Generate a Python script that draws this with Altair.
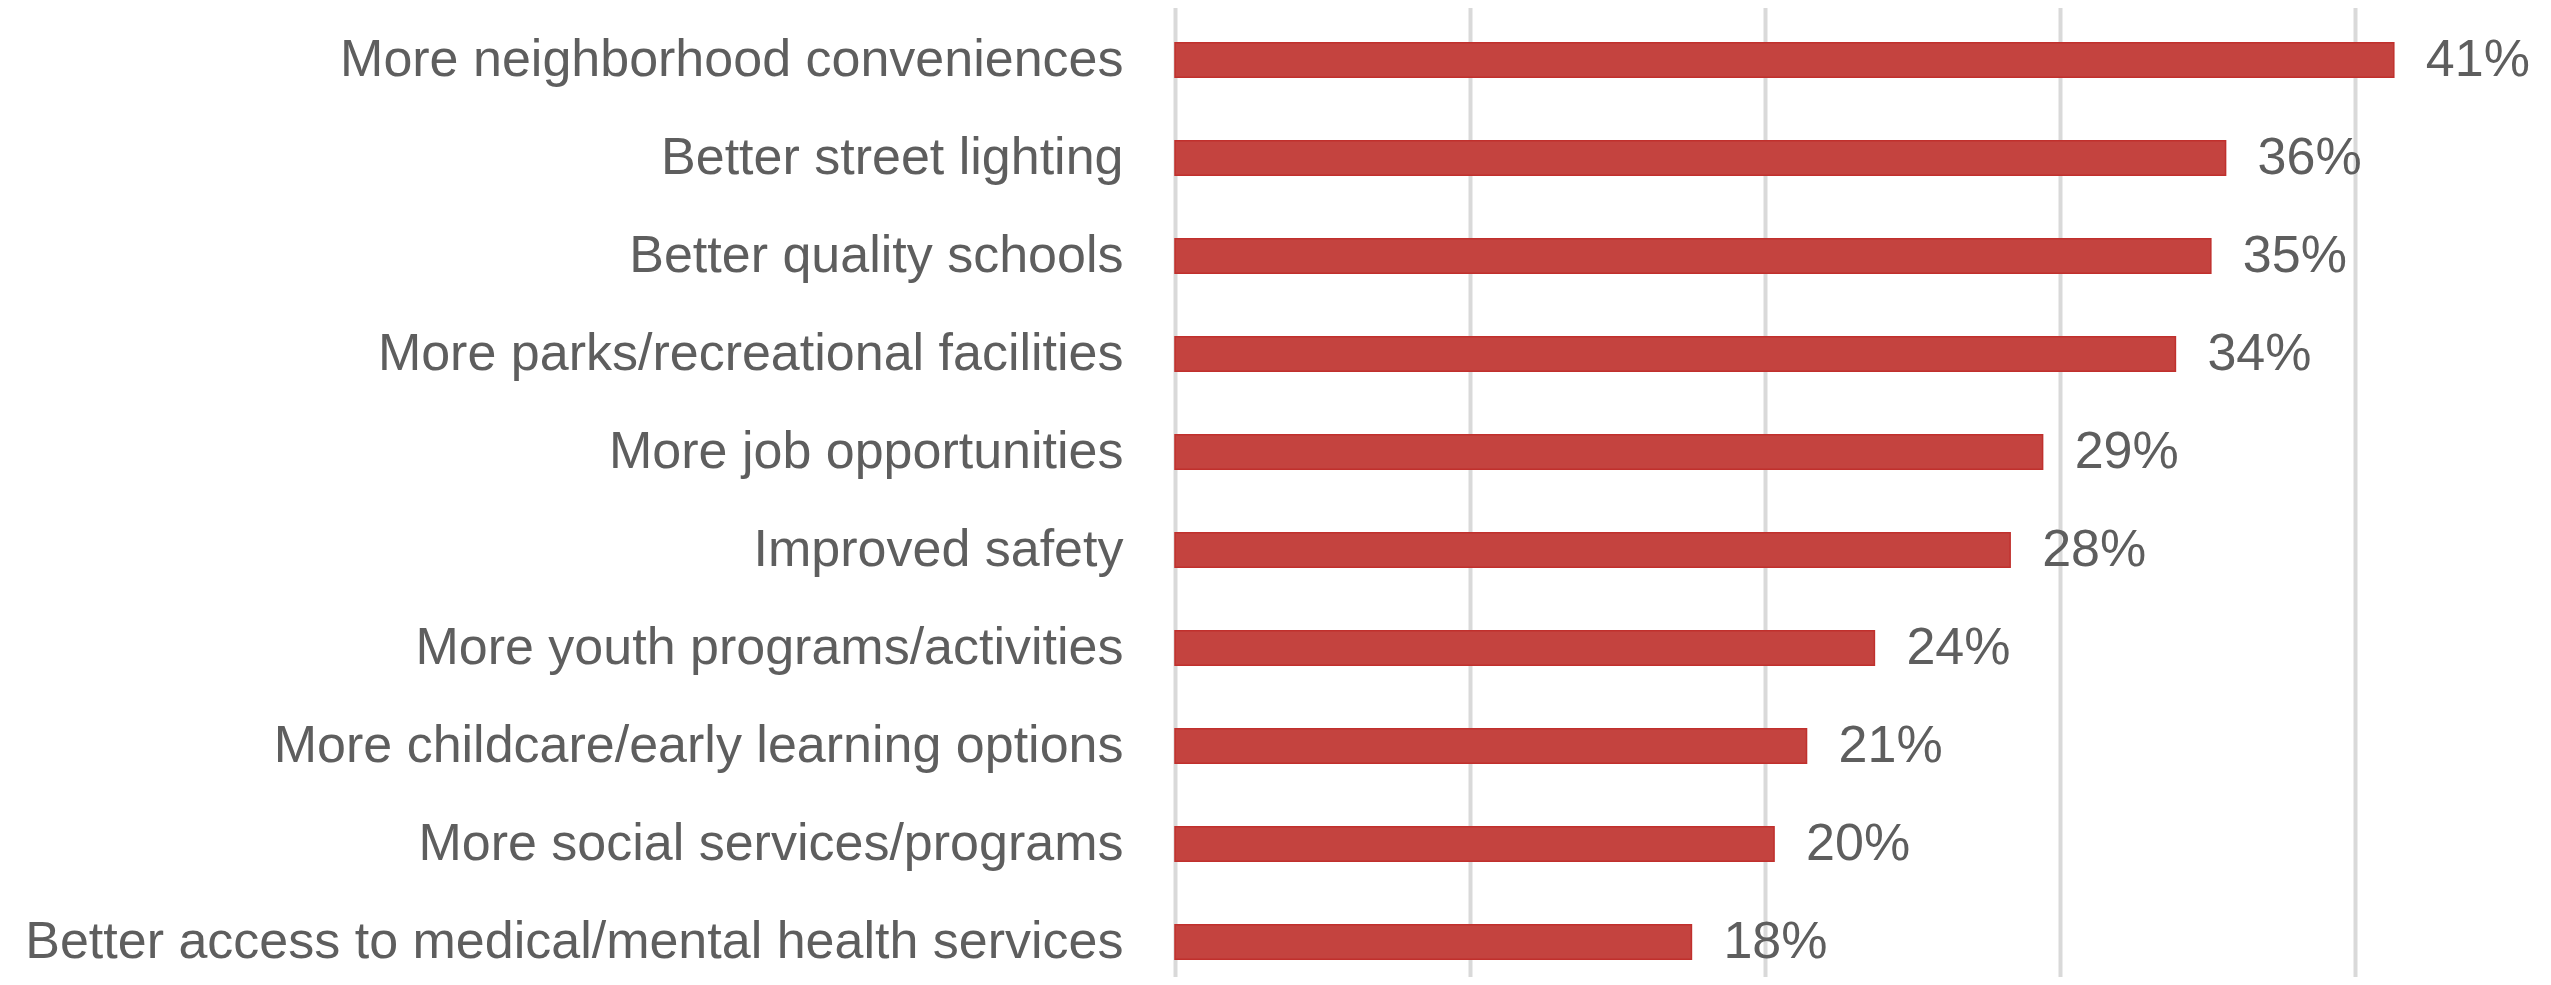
import altair as alt
import pandas as pd

categories = [
    "More neighborhood conveniences",
    "Better street lighting",
    "Better quality schools",
    "More parks/recreational facilities",
    "More job opportunities\u00a0",
    "Improved safety",
    "More youth programs/activities",
    "More childcare/early learning options",
    "More social services/programs",
    "Better access to medical/mental health services",
]
values = [41.3, 35.6, 35.1, 33.9, 29.4, 28.3, 23.7, 21.4, 20.3, 17.5]
labels = ["41%", "36%", "35%", "34%", "29%", "28%", "24%", "21%", "20%", "18%"]
grid_ticks = [0, 10, 20, 30, 40]

df = pd.DataFrame({"category": categories, "value": values, "label": labels})

FONT = "Liberation Sans"
TEXT_COLOR = "#5E5E5E"

y_enc = alt.Y(
    "category:N",
    sort=None,
    scale=alt.Scale(paddingInner=0.65, paddingOuter=0.325, range=[0, 980]),
    axis=alt.Axis(
        title=None,
        ticks=False,
        domain=False,
        grid=False,
        labelFont=FONT,
        labelFontSize=52,
        labelColor=TEXT_COLOR,
        labelPadding=52,
        labelLimit=3000,
    ),
)

x_enc = alt.X(
    "value:Q",
    scale=alt.Scale(domain=[0, 45], nice=False, zero=True),
    axis=alt.Axis(
        values=grid_ticks,
        labels=False,
        ticks=False,
        domain=False,
        grid=True,
        gridColor="#D9D9D9",
        gridWidth=4,
        title=None,
    ),
)

base = alt.Chart(df)

bars = base.mark_bar(color="#C4433F", stroke="#C0302D", strokeWidth=1.5).encode(
    x=x_enc, y=y_enc
)

text = base.mark_text(
    align="left",
    baseline="middle",
    dx=32,
    font=FONT,
    fontSize=52,
    color=TEXT_COLOR,
).encode(x="value:Q", y=alt.Y("category:N", sort=None), text="label:N")

chart = (
    alt.layer(bars, text)
    .properties(
        width=1328,
        height=966,
        autosize=alt.AutoSizeParams(type="none"),
        padding={"left": 1167, "top": 3, "right": 40, "bottom": 0},
    )
    .configure_view(stroke=None)
)

chart.save("out.html", embed_options={"renderer": "svg", "actions": False})
